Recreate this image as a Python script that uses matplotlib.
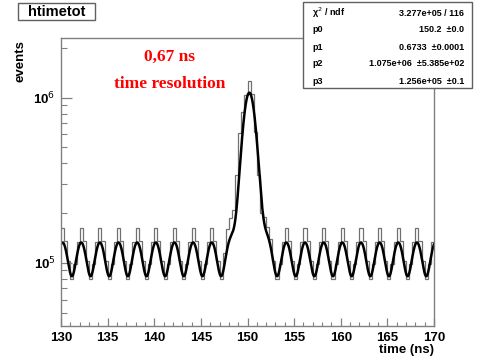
import numpy as np
import matplotlib
matplotlib.use("Agg")
import matplotlib.pyplot as plt
from matplotlib.patches import Rectangle

# ---------------- data ----------------
t_min, t_max = 130.0, 170.0
n_bins = 120

# one 2-ns baseline period (6 bins of 1/3 ns, starting at an even ns)
base_period = [1.63e5, 1.35e5, 1.02e5, 8.0e4, 9.8e4, 1.34e5]

# bins 146 .. 154 ns (peak region), 24 bins
peak_region = [1.63e5, 1.35e5, 1.02e5, 8.0e4, 1.15e5, 1.60e5,
               1.87e5, 2.10e5, 3.40e5, 6.10e5, 8.20e5, 1.04e6,
               1.26e6, 1.06e6, 6.20e5, 3.40e5, 2.00e5, 1.90e5,
               1.66e5, 1.40e5, 1.02e5, 8.0e4, 9.8e4, 1.34e5]

counts = base_period * 8 + peak_region + base_period * 8

# fit parameters (stats box)
stat_labels = ["χ$^2$ / ndf", "p0", "p1", "p2", "p3"]
stat_values = ["3.277e+05 / 116", "150.2  ±0.0", "0.6733  ±0.0001",
               "1.075e+06  ±5.385e+02", "1.256e+05  ±0.1"]
p0, p1 = 150.2, 0.6733
gauss_amp = 9.4e5          # peak height of drawn fit above baseline (read)
base_mean, base_amp = 1.08e5, 2.5e4   # periodic baseline (read)
base_phase = 0.17

# ---------------- figure ----------------
W, H = 481, 358
fig = plt.figure(figsize=(W / 100, H / 100), dpi=100)
fig.patch.set_facecolor("white")

def fx(px):
    return px / W

def fy(py):
    return 1 - py / H

ax = fig.add_axes([fx(61), fy(326), fx(434) - fx(61), fy(38) - fy(326)])

edges = np.linspace(t_min, t_max, n_bins + 1)
ax.stairs(counts, edges, color="#707070", lw=0.9, baseline=None)

t = np.linspace(t_min, t_max, 3000)
fit = (gauss_amp * np.exp(-0.5 * ((t - p0) / p1) ** 2)
       + base_mean + base_amp * np.cos(np.pi * (t - base_phase)))
ax.plot(t, fit, color="black", lw=1.8)

ax.set_yscale("log")
ax.set_xlim(t_min, t_max)
ax.set_ylim(4.15e4, 2.3e6)

for s in ax.spines.values():
    s.set_color("#808080")
    s.set_linewidth(1.0)

ax.set_xticks(np.arange(130, 171, 5))
ax.set_xticks(np.arange(130, 171, 1), minor=True)
ax.set_yticks([1e5, 1e6])
ax.set_yticklabels(["10$^5$", "10$^6$"])
ax.tick_params(axis="both", which="both", direction="in", top=False, right=False,
               color="#808080")
ax.tick_params(axis="x", which="major", length=6, width=0.9, pad=4)
ax.tick_params(axis="x", which="minor", length=3, width=0.8)
ax.tick_params(axis="y", which="major", length=8, width=0.9, pad=4)
ax.tick_params(axis="y", which="minor", length=4, width=0.8)
ax.yaxis.set_minor_formatter(matplotlib.ticker.NullFormatter())

for lab in ax.get_xticklabels() + ax.get_yticklabels():
    lab.set_fontfamily("Liberation Sans")
    lab.set_fontweight("bold")
    lab.set_fontsize(9.5)

fig.text(fx(434), fy(350), "time (ns)", ha="right", va="center",
         family="Liberation Sans", weight="bold", fontsize=9.5)
fig.text(fx(20), fy(40), "events", ha="center", va="top", rotation=90,
         family="Liberation Sans", weight="bold", fontsize=9.5)

# red annotation
fig.text(fx(170), fy(57), "0,67 ns", ha="center", va="center", color="red",
         family="Liberation Serif", weight="bold", fontsize=12.5)
fig.text(fx(170), fy(84), "time resolution", ha="center", va="center", color="red",
         family="Liberation Serif", weight="bold", fontsize=12.5)

# title box
fig.patches.append(Rectangle((fx(18), fy(20)), fx(95) - fx(18), fy(3) - fy(20),
                             transform=fig.transFigure, facecolor="white",
                             edgecolor="#606060", lw=1.0))
fig.text(fx(56.5), fy(11.5), "htimetot", ha="center", va="center",
         family="Liberation Sans", weight="bold", fontsize=10.5)

# stats box
fig.patches.append(Rectangle((fx(303), fy(88)), fx(472) - fx(303), fy(2) - fy(88),
                             transform=fig.transFigure, facecolor="white",
                             edgecolor="#606060", lw=1.0, zorder=5))
row_y = [13, 30, 47, 64, 81]
for yy, lab, val in zip(row_y, stat_labels, stat_values):
    fig.text(fx(312), fy(yy), lab, ha="left", va="center",
             family="Liberation Sans", weight="bold", fontsize=6.5, zorder=6)
    fig.text(fx(464), fy(yy), val, ha="right", va="center",
             family="Liberation Sans", weight="bold", fontsize=6.5, zorder=6)

fig.savefig("out.png", dpi=100)
